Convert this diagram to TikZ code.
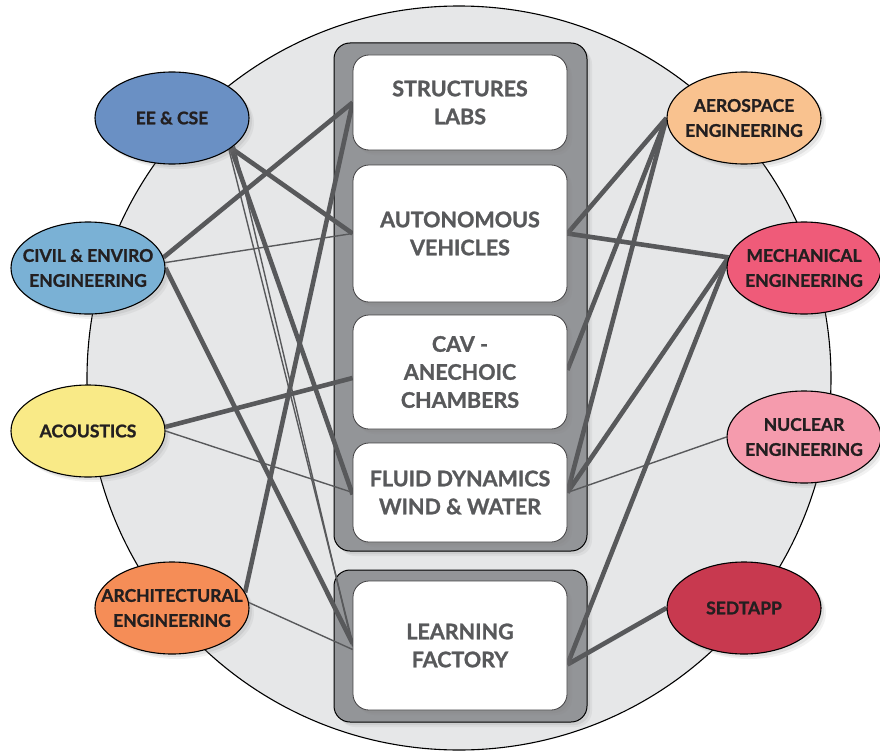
\documentclass[tikz,border=0pt]{standalone}
\usepackage{fontspec}
\setmainfont{Lato}[BoldFeatures={FakeBold=1.2}]
\usetikzlibrary{shapes.geometric,shadows}
\definecolor{linkc}{HTML}{58595B}
\definecolor{labc}{HTML}{58595B}
\definecolor{deptc}{HTML}{231F20}
\definecolor{boxline}{HTML}{414042}
\definecolor{grpc}{HTML}{939598}
\definecolor{discc}{HTML}{E6E7E8}
\definecolor{eec}{HTML}{6A90C4}
\definecolor{civc}{HTML}{7AB1D5}
\definecolor{acoc}{HTML}{F9EA87}
\definecolor{arcc}{HTML}{F58D57}
\definecolor{aerc}{HTML}{F9C28F}
\definecolor{mecc}{HTML}{EF5B79}
\definecolor{nucc}{HTML}{F59BAD}
\definecolor{sedc}{HTML}{C8394F}
\pgfdeclarelayer{bglayer}
\pgfdeclarelayer{linklayer}
\pgfsetlayers{bglayer,linklayer,main}
\tikzset{
  thicklink/.style={draw=linkc, line width=4.6pt},
  thinlink/.style={draw=linkc, line width=1.4pt},
  softshadow/.style={
    drop shadow={shadow xshift=5pt, shadow yshift=-5pt, opacity=0.10},
    drop shadow={shadow xshift=3pt, shadow yshift=-3pt, opacity=0.15}},
  deptlabel/.style={align=center, text=deptc, inner sep=0pt,
    font=\bfseries\fontsize{17.5}{25}\selectfont},
  dept/.style={ellipse, draw=black, line width=1.1pt, minimum width=154pt,
    minimum height=92pt, inner sep=0pt, softshadow},
  lab/.style={rectangle, rounded corners=16pt, draw=boxline, line width=0.8pt,
    fill=white, minimum width=214pt, inner sep=0pt, align=center, text=labc,
    font=\bfseries\fontsize{21.5}{28}\selectfont, softshadow},
  grp/.style={rectangle, rounded corners=16pt, draw=black, line width=1pt,
    fill=grpc, minimum width=253pt, inner sep=0pt, softshadow},
  disc/.style={circle, draw=black, line width=1.1pt, fill=discc, minimum size=744pt, inner sep=0pt}
}
\begin{document}
\begin{tikzpicture}[x=1pt,y=-1pt]
\useasboundingbox (0,0) rectangle (880,752);
\begin{pgfonlayer}{bglayer}
  \node[disc] (bigdisc) at (459,378) {};
  \node[grp, minimum height=508pt] (grpA) at (460.5,297) {};
  \node[grp, minimum height=152pt] (grpB) at (460.5,646) {};
\end{pgfonlayer}

% labs
\node[lab, minimum height=95pt]  (struct) at (460,102.5) {STRUCTURES\\LABS};
\node[lab, minimum height=137pt] (auto)   at (460,233.5) {AUTONOMOUS\\VEHICLES};
\node[lab, minimum height=114pt] (cav)    at (460,372)   {CAV -\\ANECHOIC\\CHAMBERS};
\node[lab, minimum height=99pt]  (fluid)  at (460,492.5) {FLUID DYNAMICS\\WIND \& WATER};
\node[lab, minimum height=129pt] (learn)  at (460,645.5) {LEARNING\\FACTORY};

% departments
\node[dept, fill=eec, label={[deptlabel]center:EE \& CSE}] (ee) at (172,118) {};
\node[dept, fill=civc, label={[deptlabel]center:{CIVIL \& ENVIRO\\ENGINEERING}}] (civ) at (88,268) {};
\node[dept, fill=acoc, label={[deptlabel]center:ACOUSTICS}] (aco) at (88,431) {};
\node[dept, fill=arcc, label={[deptlabel]center:{ARCHITECTURAL\\ENGINEERING}}] (arc) at (172,608) {};
\node[dept, fill=aerc, label={[deptlabel]center:{AEROSPACE\\ENGINEERING}}] (aer) at (744,118) {};
\node[dept, fill=mecc, label={[deptlabel]center:{MECHANICAL\\ENGINEERING}}] (mec) at (804,268) {};
\node[dept, fill=nucc, label={[deptlabel]center:{NUCLEAR\\ENGINEERING}}] (nuc) at (804,437) {};
\node[dept, fill=sedc, label={[deptlabel]center:SEDTAPP}] (sed) at (744,608) {};

\begin{pgfonlayer}{linklayer}
  % EE & CSE
  \draw[thicklink] (ee.-27) -- (auto.west);
  \draw[thicklink] (ee.-27) -- ([yshift=-2pt]fluid.west);
  \draw[thinlink] (ee.-29) -- ([yshift=3pt]learn.west);
  \draw[thinlink] (ee.-24) -- ([yshift=-1pt]learn.west);
  % Civil
  \draw[thicklink] (civ.8) -- (struct.west);
  \draw[thinlink] (civ.4) -- (auto.west);
  \draw[thicklink] (civ.0) -- ([yshift=2pt]learn.west);
  % Acoustics
  \draw[thicklink] (aco.3) -- ([yshift=-6pt]cav.west);
  \draw[thinlink] (aco.0) -- (fluid.west);
  % Architectural
  \draw[thicklink] (arc.12) -- (struct.west);
  \draw[thinlink] (arc.4) -- ([yshift=-4pt]learn.west);
  % Aerospace
  \draw[thicklink] (aer.west) -- (auto.east);
  \draw[thicklink] (aer.west) -- ([yshift=2pt]cav.east);
  \draw[thicklink] (aer.west) -- (fluid.east);
  % Mechanical
  \draw[thicklink] (mec.172) -- (auto.east);
  \draw[thicklink] (mec.172) -- (fluid.east);
  \draw[thicklink] (mec.172) -- ([yshift=-19pt]learn.east);
  % Nuclear
  \draw[thinlink] (nuc.west) -- (fluid.east);
  % SEDTAPP
  \draw[thicklink] (sed.west) -- ([yshift=-19pt]learn.east);
\end{pgfonlayer}
\end{tikzpicture}
\end{document}
